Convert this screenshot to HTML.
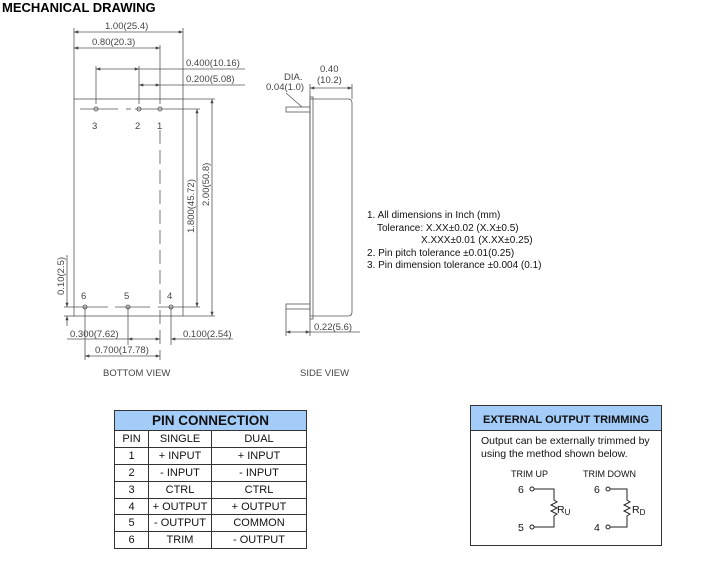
<!DOCTYPE html>
<html><head><meta charset="utf-8"><style>
body{margin:0;background:#fff;width:702px;height:564px;overflow:hidden;position:relative;font-family:"Liberation Sans",Arial,sans-serif}
.t{position:absolute}
table{border-collapse:collapse;position:absolute;left:114px;top:410px;width:193px;font-size:11px;color:#111}
td{border:1px solid #333;text-align:center;height:15.9px;padding:0;line-height:14px}
th{background:#a4ccf8;border:1px solid #333;font-size:13.5px;height:19px;padding:0}
</style></head><body>
<div class="t" style="left:2px;top:0px;font-weight:bold;font-size:13px">MECHANICAL DRAWING</div>
<svg width="702" height="564" style="position:absolute;left:0;top:0" font-family="Liberation Sans, sans-serif">
<defs><marker id="a" viewBox="0 0 8 6" refX="8" refY="3" markerWidth="6" markerHeight="4" orient="auto-start-reverse"><path d="M0,0L8,3L0,6z" fill="#444"/></marker></defs>
<g stroke="#555" stroke-width="0.8" fill="none">
<rect x="74" y="99" width="109" height="217"/>
<line x1="74" y1="28" x2="74" y2="99"/><line x1="183" y1="28" x2="183" y2="99"/>
<line x1="74" y1="32" x2="183" y2="32" marker-start="url(#a)" marker-end="url(#a)"/>
<line x1="160" y1="45" x2="160" y2="104"/>
<line x1="74" y1="48" x2="160" y2="48" marker-start="url(#a)" marker-end="url(#a)"/>
<line x1="96" y1="66" x2="96" y2="104"/><line x1="139" y1="66" x2="139" y2="104"/>
<line x1="96" y1="69" x2="139" y2="69" marker-start="url(#a)" marker-end="url(#a)"/>
<line x1="139" y1="69" x2="245" y2="69"/>
<line x1="139" y1="85" x2="160" y2="85" marker-start="url(#a)" marker-end="url(#a)"/>
<line x1="160" y1="85" x2="245" y2="85"/>
<line x1="80" y1="109" x2="118" y2="109"/><line x1="126" y1="109" x2="131" y2="109"/><line x1="135" y1="109" x2="200" y2="109"/>
<line x1="64" y1="307" x2="108" y2="307"/><line x1="115" y1="307" x2="150" y2="307"/><line x1="158" y1="307" x2="200" y2="307"/>
<line x1="160" y1="130" x2="160" y2="360" stroke-dasharray="14,6"/>
<line x1="183" y1="99" x2="215" y2="99"/><line x1="183" y1="316" x2="215" y2="316"/>
<line x1="197" y1="109" x2="197" y2="307" marker-start="url(#a)" marker-end="url(#a)"/>
<line x1="212" y1="99" x2="212" y2="316" marker-start="url(#a)" marker-end="url(#a)"/>
<line x1="67" y1="255" x2="67" y2="307" marker-end="url(#a)"/>
<line x1="67" y1="316" x2="67" y2="326" marker-start="url(#a)"/>
<line x1="64" y1="316" x2="74" y2="316"/>
<line x1="85" y1="307" x2="85" y2="360"/><line x1="128" y1="307" x2="128" y2="345"/><line x1="171" y1="307" x2="171" y2="345"/>
<line x1="67" y1="339" x2="128" y2="339"/>
<line x1="128" y1="339" x2="160" y2="339" marker-start="url(#a)" marker-end="url(#a)"/>
<line x1="171" y1="339" x2="233" y2="339" marker-start="url(#a)"/>
<line x1="85" y1="356" x2="160" y2="356" marker-start="url(#a)" marker-end="url(#a)"/>
<path d="M310,99 H348 Q352,99 352,103 V312 Q352,316 348,316 H310 Z"/>
<rect x="310" y="97" width="3" height="222"/>
<rect x="286" y="107" width="24" height="5"/>
<rect x="286" y="304" width="24" height="5"/>
<line x1="310" y1="84" x2="310" y2="97"/><line x1="352" y1="84" x2="352" y2="99"/>
<line x1="310" y1="88" x2="352" y2="88" marker-start="url(#a)" marker-end="url(#a)"/>
<line x1="286" y1="93" x2="302" y2="107"/>
<line x1="286" y1="309" x2="286" y2="336"/><line x1="310" y1="319" x2="310" y2="336"/>
<line x1="286" y1="332" x2="310" y2="332" marker-start="url(#a)" marker-end="url(#a)"/>
<line x1="310" y1="332" x2="360" y2="332"/>
</g>
<g fill="none" stroke="#444" stroke-width="0.8">
<circle cx="96" cy="109" r="2"/><circle cx="139" cy="109" r="2"/><circle cx="160" cy="109" r="2"/>
<circle cx="85" cy="307" r="2"/><circle cx="128" cy="307" r="2"/><circle cx="171" cy="307" r="2"/>
</g>
<g font-size="9.5" fill="#444">
<text x="105" y="29">1.00(25.4)</text>
<text x="92" y="45">0.80(20.3)</text>
<text x="186" y="66">0.400(10.16)</text>
<text x="186" y="82">0.200(5.08)</text>
<text x="92" y="129">3</text><text x="135" y="129">2</text><text x="157" y="129">1</text>
<text x="81" y="299">6</text><text x="124" y="299">5</text><text x="167" y="299">4</text>
<text x="70" y="337">0.300(7.62)</text>
<text x="183" y="337">0.100(2.54)</text>
<text x="95" y="353">0.700(17.78)</text>
<text x="103" y="376">BOTTOM  VIEW</text>
<text transform="translate(194,233) rotate(-90)">1.800(45.72)</text>
<text transform="translate(209,206) rotate(-90)">2.00(50.8)</text>
<text transform="translate(64,295) rotate(-90)">0.10(2.5)</text>
<text x="284" y="80">DIA.</text>
<text x="266" y="90">0.04(1.0)</text>
<text x="320" y="72">0.40</text>
<text x="317" y="83">(10.2)</text>
<text x="314" y="330">0.22(5.6)</text>
<text x="300" y="376">SIDE  VIEW</text>
</g>
<g font-size="10" fill="#111">
<text x="367" y="218">1. All dimensions in Inch (mm)</text>
<text x="377" y="231">Tolerance: X.XX±0.02 (X.X±0.5)</text>
<text x="421" y="243">X.XXX±0.01 (X.XX±0.25)</text>
<text x="367" y="256">2. Pin pitch tolerance ±0.01(0.25)</text>
<text x="367" y="268">3. Pin dimension tolerance ±0.004 (0.1)</text>
</g>
<rect x="470.5" y="405.5" width="191" height="140" fill="#fff" stroke="#333"/>
<rect x="470.5" y="405.5" width="191" height="25" fill="#a4ccf8" stroke="#333"/>
<text x="566" y="423" font-size="11" font-weight="bold" text-anchor="middle" fill="#111">EXTERNAL OUTPUT TRIMMING</text>
<g font-size="10.5" fill="#111">
<text x="481" y="444">Output can be externally trimmed by</text>
<text x="481" y="457">using the method shown below.</text>
<text x="511" y="477" font-size="9">TRIM UP</text>
<text x="583" y="477" font-size="9">TRIM DOWN</text>
<text x="518" y="493">6</text><text x="518" y="531">5</text>
<text x="594" y="493">6</text><text x="594" y="531">4</text>
<text x="557" y="513">R<tspan font-size="8" dy="2">U</tspan></text>
<text x="632" y="513">R<tspan font-size="8" dy="2">D</tspan></text>
</g>
<g fill="none" stroke="#222" stroke-width="1">
<circle cx="532" cy="489" r="2"/><circle cx="532" cy="527" r="2"/>
<circle cx="608" cy="489" r="2"/><circle cx="608" cy="527" r="2"/>
<path d="M534,489H554V500l3,2l-6,3l6,3l-6,3l6,3l-3,2V527H534"/>
<path d="M610,489H627V500l3,2l-6,3l6,3l-6,3l6,3l-3,2V527H610"/>
</g>
</svg>
<table>
<tr><th colspan="3">PIN CONNECTION</th></tr>
<tr><td style="width:33px">PIN</td><td style="width:62px">SINGLE</td><td>DUAL</td></tr>
<tr><td>1</td><td>+ INPUT</td><td>+ INPUT</td></tr>
<tr><td>2</td><td>- INPUT</td><td>- INPUT</td></tr>
<tr><td>3</td><td>CTRL</td><td>CTRL</td></tr>
<tr><td>4</td><td>+ OUTPUT</td><td>+ OUTPUT</td></tr>
<tr><td>5</td><td>- OUTPUT</td><td>COMMON</td></tr>
<tr><td>6</td><td>TRIM</td><td>- OUTPUT</td></tr>
</table>
</body></html>
